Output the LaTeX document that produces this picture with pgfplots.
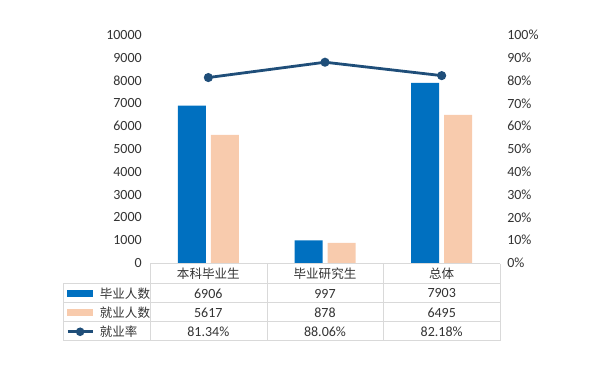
\documentclass[border=0pt]{standalone}
\usepackage{pgfplots}
\pgfplotsset{compat=1.18}
\usepackage{fontspec}
\setmainfont{Carlito}
\newfontfamily\cjk{Noto Sans CJK SC}
\definecolor{cblue}{HTML}{0070C0}
\definecolor{cpeach}{HTML}{F8CBAD}
\definecolor{cnavy}{HTML}{1F4E79}
\definecolor{cgrid}{HTML}{D9D9D9}
\definecolor{ctext}{HTML}{333333}
\begin{document}
\begin{tikzpicture}
\useasboundingbox (0,0) rectangle (450pt,277.5pt);
\pgfplotsset{
  common/.style={
    at={(112.5pt,80.25pt)}, anchor=south west,
    scale only axis, width=262.5pt, height=171pt,
    xmin=-0.5, xmax=2.5, ymin=0,
    axis x line=none,
    y axis line style={draw=none},
    major tick length=0pt,
    tick label style={font=\fontsize{10.5}{12}\selectfont, text=ctext},
    /pgf/number format/assume math mode=true,
    clip=false,
  },
  blueleg/.style={legend image code/.code={\fill[cblue] (0pt,-2.25pt) rectangle (18.75pt,2.25pt);}},
  peachleg/.style={legend image code/.code={\fill[cpeach] (0pt,-2.25pt) rectangle (18.75pt,2.25pt);}},
  lineleg/.style={legend image code/.code={\draw[cnavy, line width=2pt] (0pt,0pt) -- (18.75pt,0pt); \fill[cnavy] (9.4pt,0pt) circle (2.1pt);}},
}
\begin{axis}[common,
  axis y line=left,
  ymax=10000, ytick distance=1000,
  scaled y ticks=false,
  yticklabel style={/pgf/number format/1000 sep={}, inner xsep=0pt, xshift=-6pt},
  ybar=3.75pt, bar width=21pt,
]
\addplot[fill=cblue, draw=none] coordinates {(0,6906) (1,997) (2,7903)};
\addplot[fill=cpeach, draw=none] coordinates {(0,5617) (1,878) (2,6495)};
\end{axis}
\begin{axis}[common,
  axis y line=right,
  ymax=1, ytick={0,0.1,...,1},
  yticklabel={\pgfmathparse{\tick*100}\pgfmathprintnumber[fixed,precision=0]{\pgfmathresult}\%},
  yticklabel style={inner xsep=0pt, xshift=5.25pt},
  legend style={at={(-0.24,-0.0921)}, anchor=north west, draw=none, fill=none,
    inner sep=0pt, row sep=0pt, column sep=4.5pt,
    font=\cjk\fontsize{9.4}{11}\selectfont, text=ctext,
    nodes={minimum height=14.25pt, inner ysep=0pt, inner xsep=0pt}},
  legend cell align=left,
]
\addlegendimage{blueleg}
\addlegendentry{毕业人数}
\addlegendimage{peachleg}
\addlegendentry{就业人数}
\addplot[cnavy, line width=2.1pt, mark=*, mark size=2.3pt, lineleg]
  coordinates {(0,0.8134) (1,0.8806) (2,0.8218)};
\addlegendentry{就业率}
\end{axis}
\begin{scope}[x=0.75pt, y=-0.75pt, shift={(0,277.5pt)}]
  \draw[cgrid, line width=0.75pt] (150,264) -- (500,264);
  \foreach \yy in {284,303,322,341} \draw[cgrid, line width=0.75pt] (63,\yy) -- (500,\yy);
  \draw[cgrid, line width=0.75pt] (63,284) -- (63,341);
  \foreach \xx in {150,267,383,500} \draw[cgrid, line width=0.75pt] (\xx,264) -- (\xx,341);
  \begin{scope}[every node/.style={text=ctext, inner sep=0pt}]
  \node[font=\cjk\fontsize{9.4}{11}\selectfont] at (208.3,274) {本科毕业生};
  \node[font=\cjk\fontsize{9.4}{11}\selectfont] at (325,274) {毕业研究生};
  \node[font=\cjk\fontsize{9.4}{11}\selectfont] at (441.7,274) {总体};
  \node[font=\fontsize{10.5}{12}\selectfont] at (208.3,293.5) {6906};
  \node[font=\fontsize{10.5}{12}\selectfont] at (325,293.5) {997};
  \node[font=\fontsize{10.5}{12}\selectfont] at (441.7,293.5) {7903};
  \node[font=\fontsize{10.5}{12}\selectfont] at (208.3,312.5) {5617};
  \node[font=\fontsize{10.5}{12}\selectfont] at (325,312.5) {878};
  \node[font=\fontsize{10.5}{12}\selectfont] at (441.7,312.5) {6495};
  \node[font=\fontsize{10.5}{12}\selectfont] at (208.3,331.5) {81.34\%};
  \node[font=\fontsize{10.5}{12}\selectfont] at (325,331.5) {88.06\%};
  \node[font=\fontsize{10.5}{12}\selectfont] at (441.7,331.5) {82.18\%};
  \end{scope}
\end{scope}
\end{tikzpicture}
\end{document}
